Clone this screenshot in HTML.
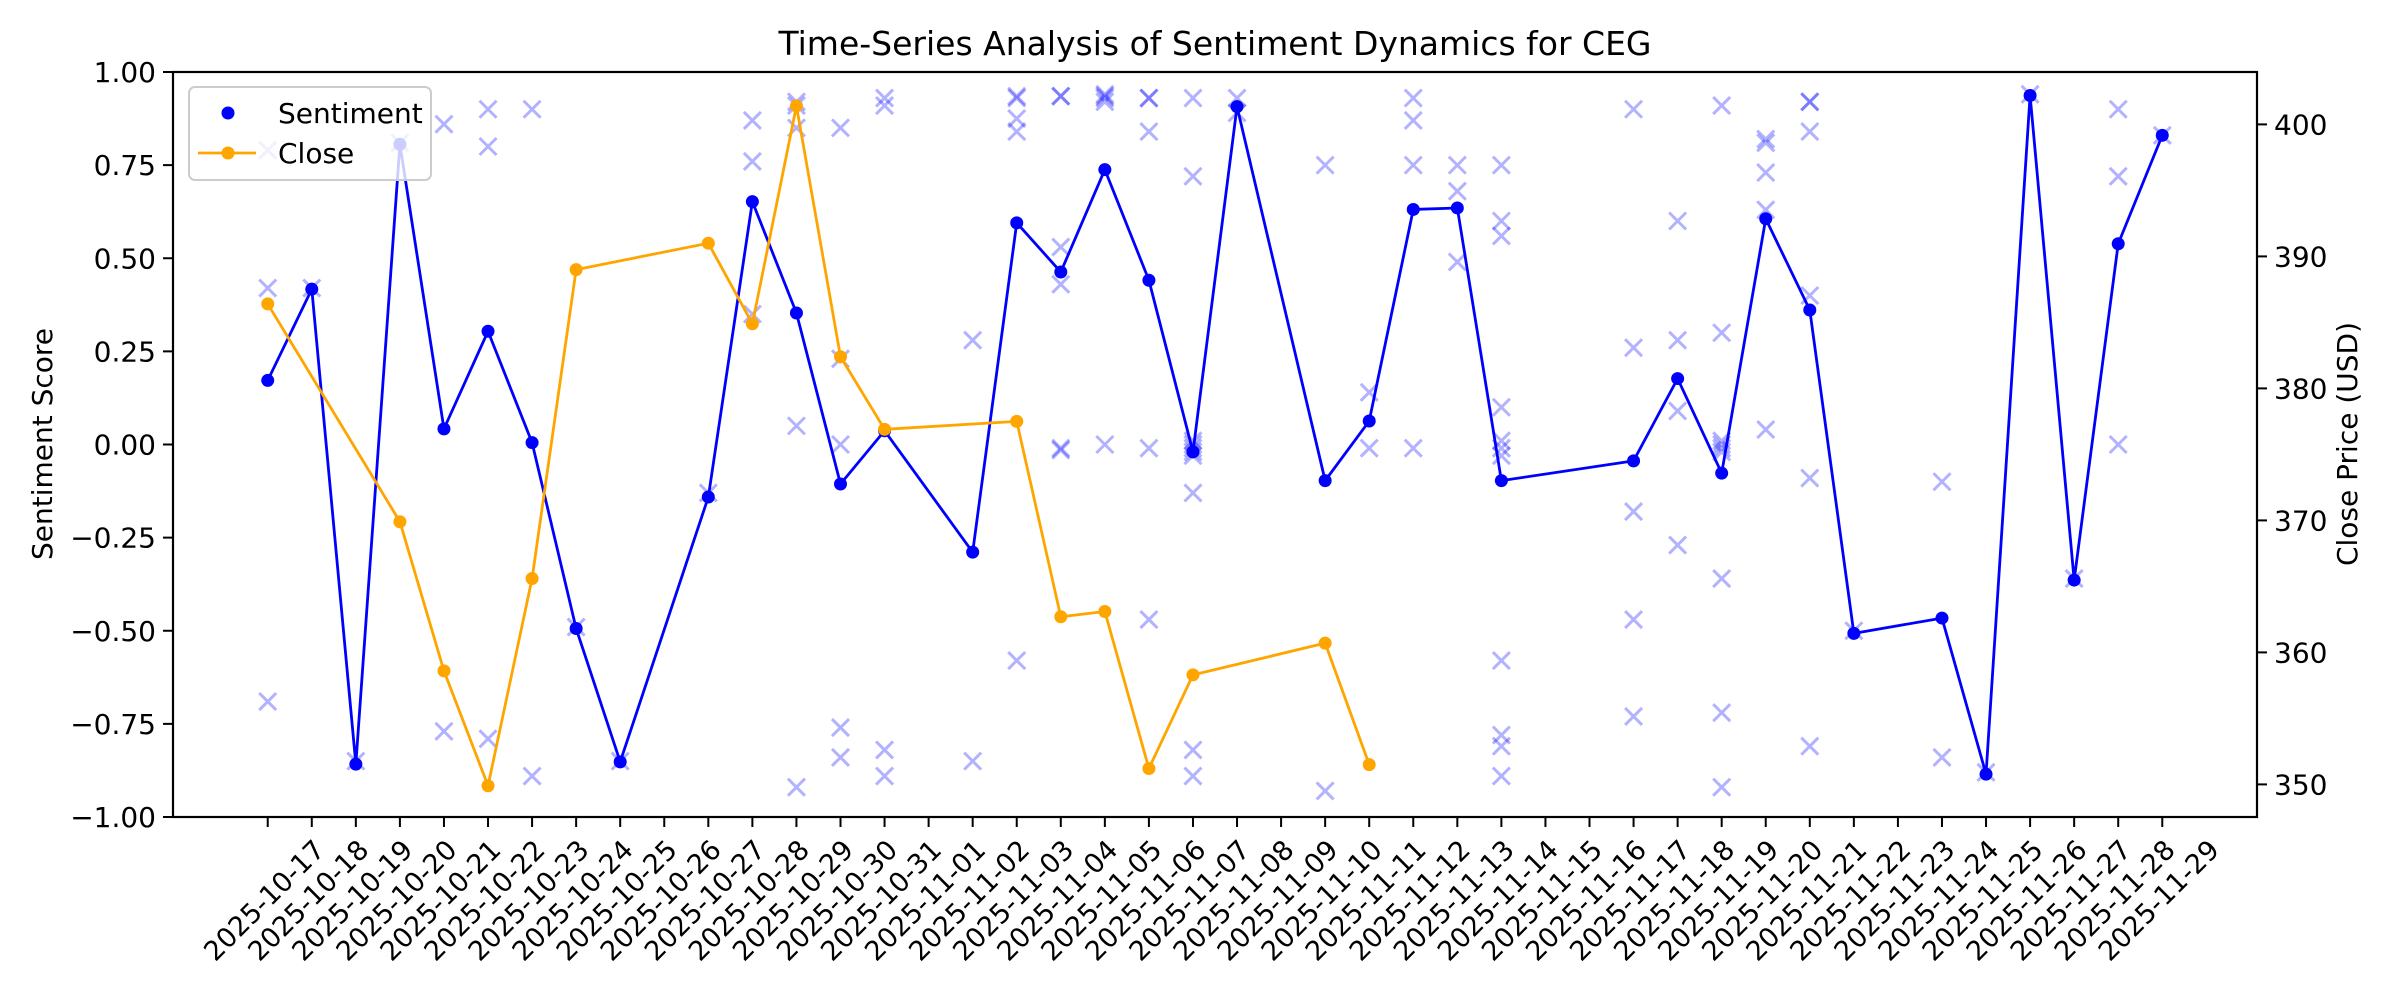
<!DOCTYPE html>
<html><head><meta charset="utf-8"><style>
html,body{margin:0;padding:0;background:#fff;}
svg{display:block;font-family:"DejaVu Sans","Liberation Sans",sans-serif;}
</style></head><body>
<svg id="chart" width="2400" height="1000" viewBox="0 0 2400 1000" xmlns="http://www.w3.org/2000/svg">
<rect width="2400" height="1000" fill="#fff"/>
<text x="1215" y="55" font-size="33" text-anchor="middle" fill="#000">Time-Series Analysis of Sentiment Dynamics for CEG</text>
<text transform="translate(52,444) rotate(-90)" font-size="28" text-anchor="middle" fill="#000">Sentiment Score</text>
<text transform="translate(2357,444) rotate(-90)" font-size="28" text-anchor="middle" fill="#000">Close Price (USD)</text>
<g id="scatter"></g><g id="sentLine"></g><g id="closeLine"></g><g id="axes"></g><g id="legend"></g>
</svg>
<script>
const dates = ["2025-10-17","2025-10-18","2025-10-19","2025-10-20","2025-10-21","2025-10-22","2025-10-23","2025-10-24","2025-10-25","2025-10-26","2025-10-27","2025-10-28","2025-10-29","2025-10-30","2025-10-31","2025-11-01","2025-11-02","2025-11-03","2025-11-04","2025-11-05","2025-11-06","2025-11-07","2025-11-08","2025-11-09","2025-11-10","2025-11-11","2025-11-12","2025-11-13","2025-11-14","2025-11-15","2025-11-16","2025-11-17","2025-11-18","2025-11-19","2025-11-20","2025-11-21","2025-11-22","2025-11-23","2025-11-24","2025-11-25","2025-11-26","2025-11-27","2025-11-28","2025-11-29"];
const sentDates = ["2025-10-17","2025-10-18","2025-10-19","2025-10-20","2025-10-21","2025-10-22","2025-10-23","2025-10-24","2025-10-25","2025-10-27","2025-10-28","2025-10-29","2025-10-30","2025-10-31","2025-11-02","2025-11-03","2025-11-04","2025-11-05","2025-11-06","2025-11-07","2025-11-08","2025-11-10","2025-11-11","2025-11-12","2025-11-13","2025-11-14","2025-11-17","2025-11-18","2025-11-19","2025-11-20","2025-11-21","2025-11-22","2025-11-24","2025-11-25","2025-11-26","2025-11-27","2025-11-28","2025-11-29"];
const sentValues = [0.172,0.417,-0.858,0.806,0.042,0.304,0.005,-0.494,-0.852,-0.141,0.652,0.353,-0.106,0.037,-0.289,0.595,0.463,0.738,0.441,-0.020,0.907,-0.097,0.063,0.631,0.635,-0.097,-0.044,0.177,-0.077,0.606,0.361,-0.507,-0.466,-0.885,0.937,-0.364,0.539,0.830];
const closeDates = ["2025-10-17","2025-10-20","2025-10-21","2025-10-22","2025-10-23","2025-10-24","2025-10-27","2025-10-28","2025-10-29","2025-10-30","2025-10-31","2025-11-03","2025-11-04","2025-11-05","2025-11-06","2025-11-07","2025-11-10","2025-11-11"];
const closeValues = [386.4,369.9,358.6,349.9,365.6,389.0,391.0,384.9,401.4,382.4,376.9,377.5,362.7,363.1,351.2,358.3,360.7,351.5];
const articleDates = ["2025-10-17","2025-10-17","2025-10-17","2025-10-18","2025-10-19","2025-10-20","2025-10-21","2025-10-21","2025-10-22","2025-10-22","2025-10-22","2025-10-23","2025-10-23","2025-10-24","2025-10-25","2025-10-27","2025-10-28","2025-10-28","2025-10-28","2025-10-29","2025-10-29","2025-10-29","2025-10-29","2025-10-29","2025-10-30","2025-10-30","2025-10-30","2025-10-30","2025-10-30","2025-10-31","2025-10-31","2025-10-31","2025-10-31","2025-11-02","2025-11-02","2025-11-03","2025-11-03","2025-11-03","2025-11-03","2025-11-03","2025-11-04","2025-11-04","2025-11-04","2025-11-04","2025-11-04","2025-11-04","2025-11-05","2025-11-05","2025-11-05","2025-11-05","2025-11-05","2025-11-06","2025-11-06","2025-11-06","2025-11-06","2025-11-06","2025-11-07","2025-11-07","2025-11-07","2025-11-07","2025-11-07","2025-11-07","2025-11-07","2025-11-07","2025-11-07","2025-11-07","2025-11-08","2025-11-08","2025-11-10","2025-11-10","2025-11-11","2025-11-11","2025-11-12","2025-11-12","2025-11-12","2025-11-12","2025-11-13","2025-11-13","2025-11-13","2025-11-14","2025-11-14","2025-11-14","2025-11-14","2025-11-14","2025-11-14","2025-11-14","2025-11-14","2025-11-14","2025-11-14","2025-11-14","2025-11-17","2025-11-17","2025-11-17","2025-11-17","2025-11-17","2025-11-18","2025-11-18","2025-11-18","2025-11-18","2025-11-19","2025-11-19","2025-11-19","2025-11-19","2025-11-19","2025-11-19","2025-11-19","2025-11-19","2025-11-19","2025-11-20","2025-11-20","2025-11-20","2025-11-20","2025-11-20","2025-11-21","2025-11-21","2025-11-21","2025-11-21","2025-11-21","2025-11-21","2025-11-22","2025-11-24","2025-11-24","2025-11-25","2025-11-26","2025-11-27","2025-11-28","2025-11-28","2025-11-28","2025-11-29"];
const articleScores = [0.42,0.79,-0.69,0.42,-0.85,0.81,0.86,-0.77,0.90,0.80,-0.79,0.90,-0.89,-0.49,-0.85,-0.13,0.87,0.76,0.35,0.92,0.91,0.85,0.05,-0.92,0.85,0.23,0.0,-0.76,-0.84,0.93,0.91,-0.82,-0.89,0.28,-0.85,0.935,0.93,0.875,0.84,-0.58,0.935,0.935,0.53,0.43,-0.01,-0.015,0.94,0.935,0.93,0.92,0.0,0.93,0.93,0.84,-0.01,-0.47,0.93,0.72,0.0,-0.01,-0.02,0.01,-0.03,-0.13,-0.82,-0.89,0.93,0.89,0.75,-0.93,0.14,-0.01,0.93,0.87,0.75,-0.01,0.75,0.68,0.49,0.75,0.60,0.56,0.10,0.01,-0.01,-0.03,-0.58,-0.78,-0.81,-0.89,0.90,0.26,-0.18,-0.47,-0.73,0.60,0.28,0.09,-0.27,0.91,0.30,0.0,-0.01,0.01,-0.02,-0.36,-0.72,-0.92,0.82,0.81,0.73,0.63,0.04,0.92,0.92,0.84,0.40,-0.09,-0.81,-0.50,-0.10,-0.84,-0.88,0.94,-0.36,0.90,0.72,0.0,0.83];
const leftTicks = [-1.00,-0.75,-0.50,-0.25,0.00,0.25,0.50,0.75,1.00];
const rightTicks = [350,360,370,380,390,400];

const NS = "http://www.w3.org/2000/svg";
const PL = 173, PR = 2257, PT = 72, PB = 817;
const xMin = -2.15, xMax = dates.length - 1 + 2.15;
const sMin = -1, sMax = 1, cMin = 347.53, cMax = 403.97;
function xOf(d){ const i = dates.indexOf(d); return PL + (i - xMin) / (xMax - xMin) * (PR - PL); }
function xIdx(i){ return PL + (i - xMin) / (xMax - xMin) * (PR - PL); }
function yS(v){ return PT + (sMax - v) / (sMax - sMin) * (PB - PT); }
function yC(v){ return PT + (cMax - v) / (cMax - cMin) * (PB - PT); }
function mk(tag, attrs, parent){ const e = document.createElementNS(NS, tag); for (const k in attrs) e.setAttribute(k, attrs[k]); parent.appendChild(e); return e; }
const fmtMinus = s => s.replace("-", "\u2212");

const sc = document.getElementById("scatter");
for (let i = 0; i < articleDates.length; i++) {
  const x = xOf(articleDates[i]), y = yS(articleScores[i]), a = 8.5;
  const p = mk("path", {d:`M${x-a},${y-a}L${x+a},${y+a}M${x-a},${y+a}L${x+a},${y-a}`, stroke:"#0000ff", "stroke-opacity":"0.3", "stroke-width":"3", fill:"none"}, sc);
  
  
}
const sl = document.getElementById("sentLine");
const sp = mk("polyline", {points: sentDates.map((d,i)=>xOf(d)+","+yS(sentValues[i])).join(" "), fill:"none", stroke:"#0000ff", "stroke-width":"2.8", "stroke-linejoin":"round"}, sl);


sentDates.forEach((d,i)=>{
  const c = mk("circle", {cx:xOf(d), cy:yS(sentValues[i]), r:"6.5", fill:"#0000ff"}, sl);
  
  
});
const cl = document.getElementById("closeLine");
const cp = mk("polyline", {points: closeDates.map((d,i)=>xOf(d)+","+yC(closeValues[i])).join(" "), fill:"none", stroke:"#ffa500", "stroke-width":"2.8", "stroke-linejoin":"round"}, cl);


closeDates.forEach((d,i)=>{
  const c = mk("circle", {cx:xOf(d), cy:yC(closeValues[i]), r:"6.5", fill:"#ffa500"}, cl);
  
  
});
const ax = document.getElementById("axes");
const frame = mk("rect", {x:PL, y:PT, width:PR-PL, height:PB-PT, fill:"none", stroke:"#000", "stroke-width":"2.2"}, ax);


leftTicks.forEach(v=>{
  const y = yS(v);
  const t = mk("line", {x1:PL-10, x2:PL, y1:y, y2:y, stroke:"#000", "stroke-width":"2"}, ax);
  
  
  const l = mk("text", {x:PL-17, y:y+10, "font-size":"28", "text-anchor":"end", fill:"#000"}, ax);
  l.textContent = fmtMinus(v.toFixed(2));
  
  
});
rightTicks.forEach(v=>{
  const y = yC(v);
  const t = mk("line", {x1:PR, x2:PR+10, y1:y, y2:y, stroke:"#000", "stroke-width":"2"}, ax);
  
  
  const l = mk("text", {x:PR+17, y:y+10, "font-size":"28", "text-anchor":"start", fill:"#000"}, ax);
  l.textContent = String(v);
  
  
});
dates.forEach((d,i)=>{
  const x = xIdx(i);
  const t = mk("line", {x1:x, x2:x, y1:PB, y2:PB+10, stroke:"#000", "stroke-width":"2"}, ax);
  
  
  const l = mk("text", {transform:`translate(${x-3},901) rotate(-45)`, "font-size":"27", "text-anchor":"middle", "dominant-baseline":"central", fill:"#000"}, ax);
  l.textContent = d;
  
  
});
const lg = document.getElementById("legend");


const box = mk("rect", {x:189, y:87, width:242, height:93, rx:"6", fill:"#fff", "fill-opacity":"0.8", stroke:"#cccccc", "stroke-width":"2"}, lg);


const m1 = mk("circle", {cx:228, cy:113, r:"6.5", fill:"#0000ff"}, lg);


const t1 = mk("text", {x:278, y:123, "font-size":"28", fill:"#000"}, lg);
t1.textContent = "Sentiment";


const ln = mk("line", {x1:198, x2:256, y1:153, y2:153, stroke:"#ffa500", "stroke-width":"2.8"}, lg);


const m2 = mk("circle", {cx:228, cy:153, r:"6.5", fill:"#ffa500"}, lg);


const t2 = mk("text", {x:278, y:163, "font-size":"28", fill:"#000"}, lg);
t2.textContent = "Close";


</script>
</body></html>
